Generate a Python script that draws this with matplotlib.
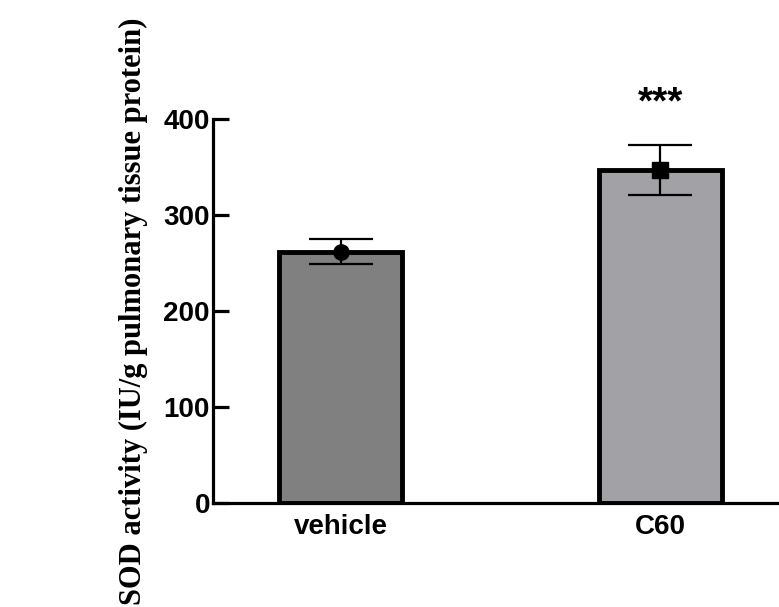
"""
SOD activity in pulmonary tissue: vehicle vs C60 bar chart with error bars.
"""

import matplotlib

matplotlib.use("Agg")
import matplotlib.pyplot as plt


GROUPS = ["vehicle", "C60"]
MEANS = [262, 347]
ERRORS = [13, 26]
BAR_COLORS = ["#808080", "#a2a2a6"]
MARKERS = ["o", "s"]
Y_TICKS = [0, 100, 200, 300, 400]
SIGNIFICANCE = ["", "***"]


def main() -> None:
    fig = plt.figure(figsize=(7.79, 6.07), dpi=100)
    ax = fig.add_axes([0.273, 0.171, 0.727, 0.633])

    x = list(range(len(GROUPS)))
    ax.bar(x, MEANS, width=0.385, color=BAR_COLORS, edgecolor="black",
           linewidth=3.5, zorder=2)

    for xi, m, e, mk in zip(x, MEANS, ERRORS, MARKERS):
        ax.errorbar(xi, m, yerr=e, fmt=mk, color="black", markersize=11,
                    elinewidth=1.6, capsize=23, capthick=1.6, zorder=3)

    for xi, s in zip(x, SIGNIFICANCE):
        if s:
            ax.text(xi, 416, s, ha="center", va="center", fontsize=28,
                    fontweight="bold", family="Liberation Sans")

    ax.set_xlim(-0.4, 1.372)
    ax.set_ylim(0, 400)
    ax.set_yticks(Y_TICKS)
    ax.set_xticks(x)
    ax.set_xticklabels(GROUPS)

    for side in ["top", "right"]:
        ax.spines[side].set_visible(False)
    for side in ["left", "bottom"]:
        ax.spines[side].set_linewidth(2.3)

    ax.tick_params(axis="y", direction="in", length=11.5, width=2.3, pad=2,
                   labelsize=20)
    ax.tick_params(axis="x", length=0, pad=8, labelsize=20)
    for lab in ax.get_xticklabels() + ax.get_yticklabels():
        lab.set_fontweight("bold")
        lab.set_family("Liberation Sans")

    ax.set_ylabel("SOD activity (IU/g pulmonary tissue protein)", fontsize=22,
                  fontweight="bold", family="Liberation Serif")
    ax.yaxis.set_label_coords(-0.115, 0.5)

    fig.savefig("out.png", dpi=100)
    plt.close(fig)


if __name__ == "__main__":
    main()
